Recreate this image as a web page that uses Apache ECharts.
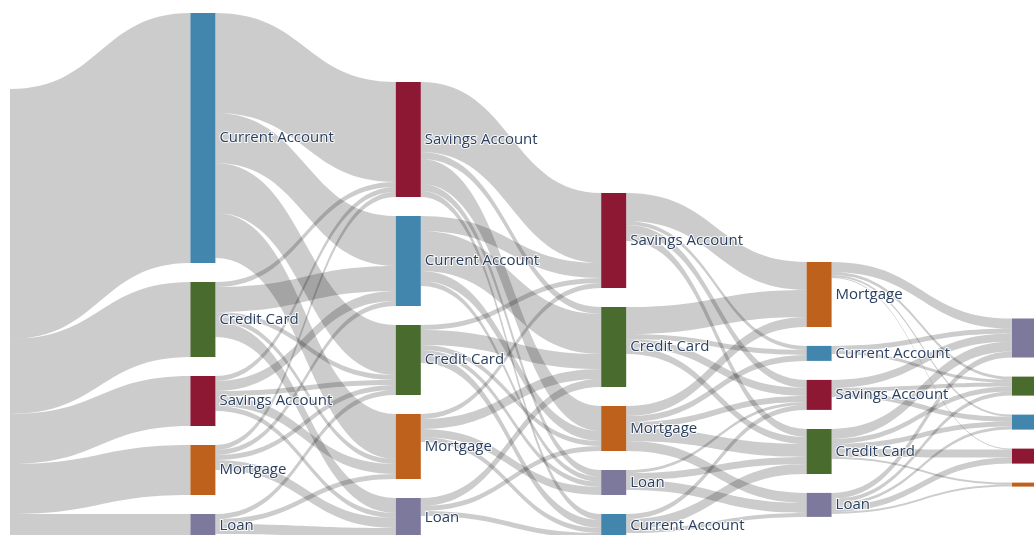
<!DOCTYPE html>
<html lang="en">
  <head>
    <meta charset="UTF-8" />
    <title>Product journey sankey</title>
    <script src="https://cdn.jsdelivr.net/npm/echarts@6/dist/echarts.min.js"></script>
    <style>
      html, body { margin: 0; padding: 0; background: #fff; }
      #main { width: 1034px; height: 535px; }
    </style>
  </head>
  <body>
    <div id="main"></div>

    <script>
      // products shown in each step, top to bottom
      const step1 = ['Current Account', 'Credit Card', 'Savings Account', 'Mortgage', 'Loan'];
      const step2 = ['Savings Account', 'Current Account', 'Credit Card', 'Mortgage', 'Loan'];
      const step3 = ['Savings Account', 'Credit Card', 'Mortgage', 'Loan', 'Current Account'];
      const step4 = ['Mortgage', 'Current Account', 'Savings Account', 'Credit Card', 'Loan'];
      const step5 = ['Loan', 'Credit Card', 'Current Account', 'Savings Account', 'Mortgage'];

      // customers entering each first product
      const startFlows = [250, 75, 50, 50, 24];

      // rows = source step order, columns = target step order
      const flows12 = [
        [100, 50, 50, 45, 0],
        [5, 25, 5, 5, 15],
        [5, 10, 5, 10, 5],
        [5, 5, 5, 0, 10],
        [0, 0, 5, 5, 10],
      ];
      const flows23 = [
        [70, 7, 25, 7, 6],
        [15, 40, 10, 5, 0],
        [5, 15, 5, 5, 8],
        [5, 10, 0, 8, 5],
        [0, 8, 5, 0, 5],
      ];
      const flows34 = [
        [28, 4, 8, 8, 0],
        [27, 5, 8, 7, 0],
        [10, 6, 6, 13, 10],
        [0, 0, 3, 7, 10],
        [0, 0, 5, 10, 4],
      ];
      const flows45 = [
        [10, 3, 2, 1, 0],
        [5, 3, 0, 0, 0],
        [8, 4, 5, 0, 0],
        [10, 5, 5, 8, 2],
        [6, 4, 3, 6, 2],
      ];

      const colors = {
        'Current Account': '#4286ad',
        'Credit Card': '#4a6b2e',
        'Savings Account': '#8d1834',
        'Mortgage': '#bd611c',
        'Loan': '#7c799c',
      };

      const steps = [step1, step2, step3, step4, step5];
      const stepFlows = [flows12, flows23, flows34, flows45];

      const nodes = [{
        name: 'start',
        product: '',
        depth: 0,
        itemStyle: { color: 'rgba(0,0,0,0)' },
        label: { show: false },
      }];
      steps.forEach((step, s) => {
        step.forEach((p) => {
          nodes.push({
            name: p + '#' + (s + 1),
            product: p,
            depth: s + 1,
            itemStyle: { color: colors[p] },
          });
        });
      });

      const links = [];
      startFlows.forEach((v, i) => {
        links.push({ source: 'start', target: step1[i] + '#1', value: v });
      });
      stepFlows.forEach((matrix, s) => {
        matrix.forEach((row, i) => {
          row.forEach((v, j) => {
            if (v > 0) {
              links.push({
                source: steps[s][i] + '#' + (s + 1),
                target: steps[s + 1][j] + '#' + (s + 2),
                value: v,
              });
            }
          });
        });
      });

      const chart = echarts.init(document.getElementById('main'));
      chart.setOption({
        animation: false,
        series: [
          {
            type: 'sankey',
            left: -15,
            right: -3,
            top: 13,
            bottom: -3,
            nodeWidth: 25,
            nodeGap: 19,
            nodeAlign: 'left',
            draggable: false,
            emphasis: { disabled: true },
            data: nodes,
            links: links,
            itemStyle: { borderWidth: 0 },
            lineStyle: { color: '#000', opacity: 0.2, curveness: 0.5 },
            label: {
              position: 'right',
              distance: 4,
              fontFamily: 'Open Sans',
              fontSize: 15,
              color: '#2a3f5f',
              textBorderColor: 'rgba(255,255,255,0.85)',
              textBorderWidth: 2,
              formatter: (p) => p.data.product,
            },
          },
        ],
      });

      window.onresize = function () {
        chart.resize();
      };
    </script>
  </body>
</html>
